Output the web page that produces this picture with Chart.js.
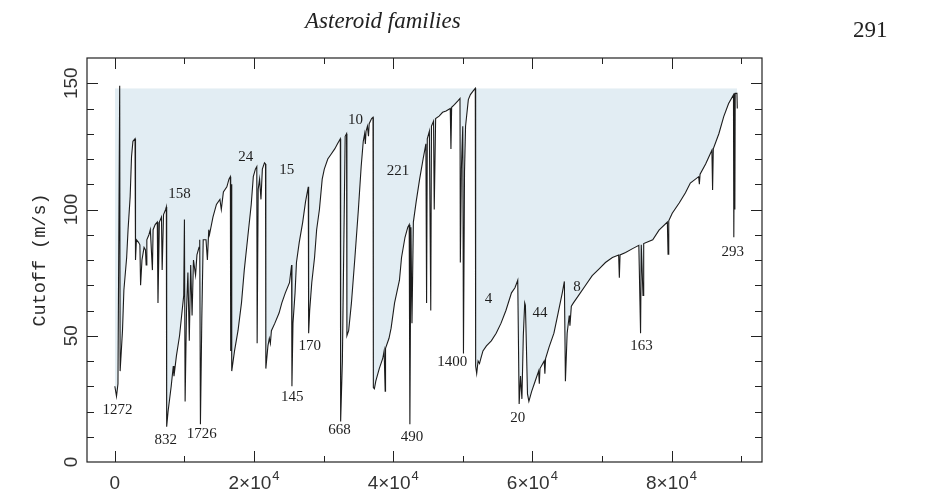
<!DOCTYPE html>
<html>
<head>
<meta charset="utf-8">
<script src="https://cdn.jsdelivr.net/npm/chart.js@4.4.1/dist/chart.umd.min.js"></script>
<style>
  html, body { margin: 0; padding: 0; background: #fff; }
  #page { position: relative; width: 944px; height: 496px; overflow: hidden; }
  #chart { position: absolute; left: 0; top: 0; }
  .running-head { position: absolute; font-family: "Liberation Serif", serif; font-size: 23px; color: #222; white-space: nowrap; }
</style>
</head>
<body>
<div id="page">
  <canvas id="chart" width="944" height="496"></canvas>
  <div class="running-head" style="left:305px;top:8px;font-style:italic;">Asteroid families</div>
  <div class="running-head" style="left:853px;top:17px;">291</div>
</div>
<script>
// ordered asteroid index vs. cutoff velocity (m/s)
const cutoffX = [
  0, 240, 450, 700, 760, 1100, 1300, 1700, 1900, 2200, 2400, 2600, 2900, 2970, 3100, 3400, 3600, 3700, 3900, 4200,
  4400, 4500, 4600, 4900, 5100, 5400, 5500, 5800, 6100, 6200, 6400, 6700, 6800, 7000, 7300, 7400, 7450, 7650, 8100, 8400,
  8500, 8850, 9300, 9600, 9900, 10000, 10100, 10300, 10500, 10700, 10900, 11100, 11300, 11600, 11800, 12100, 12200, 12300, 12500, 12700,
  13100, 13300, 13500, 13600, 14100, 14600, 15100, 15300, 15600, 16100, 16400, 16600, 16650, 16700, 16800, 17200, 17700, 18200, 18600, 19100,
  19600, 19900, 20200, 20400, 20450, 20600, 20800, 21000, 21200, 21500, 21650, 21700, 22000, 22200, 22350, 22500, 23000, 23600, 24000, 24500,
  25100, 25400, 25450, 25600, 25900, 26100, 26500, 27000, 27400, 27800, 27850, 28000, 28300, 28700, 29000, 29400, 29800, 30100, 30600, 31100,
  31600, 32000, 32400, 32450, 32700, 33100, 33300, 33350, 33600, 34000, 34500, 35000, 35400, 35700, 35900, 36000, 36100, 36300, 36450, 36550,
  36900, 37100, 37150, 37300, 37500, 38000, 38500, 38700, 38850, 38900, 39400, 39700, 40200, 40900, 41200, 41700, 42100, 42300, 42400, 42550,
  42700, 42900, 43300, 43800, 44300, 44700, 44800, 44900, 45200, 45400, 45500, 45800, 45900, 46100, 46600, 47100, 47600, 48200, 48300, 48400,
  48800, 49300, 49600, 49650, 49800, 50000, 50100, 50250, 50400, 50800, 51100, 51500, 51800, 51850, 52000, 52200, 52400, 52600, 52900, 53400,
  54100, 54800, 55500, 56200, 57000, 57500, 57900, 58100, 58300, 58500, 58700, 58900, 59000, 59100, 59300, 59500, 59900, 60400, 60900, 61000,
  61100, 61700, 61800, 61900, 62400, 63100, 63700, 64300, 64600, 64750, 65000, 65300, 65400, 65600, 65900, 66600, 67600, 68600, 69600, 70500,
  71500, 72400, 72500, 72600, 73400, 74400, 75300, 75550, 75650, 75900, 76000, 77300, 78200, 79400, 79500, 79600, 80100, 81100, 82000, 82700,
  83900, 84000, 84100, 84900, 85800, 85900, 86000, 86800, 87500, 88200, 88900, 88950, 89050, 89100, 89150, 89400, 89450
];
const cutoffY = [
  30, 26, 31, 149, 36, 52, 68, 81, 92, 105, 121, 127, 128, 80, 88, 87, 86, 70, 80, 85,
  84, 78, 88, 90, 92, 76, 92, 94, 95, 63, 95, 97, 76, 98, 100, 101, 14, 20, 30, 38,
  34, 42, 50, 58, 66, 96, 24, 60, 75, 48, 78, 58, 80, 74, 82, 85, 88, 15, 57, 88,
  88, 80, 92, 90, 97, 102, 104, 100, 107, 109, 112, 113, 44, 110, 36, 44, 52, 63, 76, 89,
  102, 113, 116, 117, 47, 108, 112, 104, 116, 118.5, 118, 37, 46, 49, 47, 52, 55, 59, 63, 67,
  71, 78, 30, 55, 67, 79, 87, 95, 103, 109, 51, 60, 71, 81, 92, 100, 112, 116, 120, 122,
  124, 126, 128, 16, 40, 129, 130, 50, 52, 63, 81, 100, 117, 127, 130, 126, 131, 133, 129, 134,
  136, 136.5, 29.5, 29, 32, 37, 41, 44, 28, 45, 49, 53, 63, 72, 81, 89, 93, 94, 15, 93,
  55, 95, 103, 112, 120, 126, 63, 128, 131, 60, 133, 135, 100, 136, 137, 138.5, 139, 140, 124, 140.5,
  141.5, 143, 144, 79, 116, 133, 43, 115, 133, 143.5, 145.5, 147, 148, 38, 35, 40, 39, 41, 44, 46,
  48, 51, 55, 60, 67, 69, 72, 23, 34, 25, 50, 63, 62, 51, 27, 24, 28, 32, 36, 31,
  37, 40, 35, 41, 45.5, 51, 59, 67, 71.5, 32, 51, 58, 54, 61.7, 63, 65.8, 69.8, 73.8, 76.5, 79,
  81, 82, 73, 82, 83, 84.5, 85.8, 51, 86, 66, 86.5, 88, 91.8, 95, 82.3, 95.5, 98.5, 102.6, 106.6, 110.5,
  113, 110, 114, 118, 123.5, 107.7, 124, 130, 136.8, 142, 145.4, 89, 146, 100, 146, 146, 140
];

// family labels (number of the parent asteroid) and where they sit
const familyNames = ['1272', '832', '1726', '158', '24', '15', '145', '170', '668', '10', '221', '490', '1400', '4', '20', '44', '8', '163', '293'];
const familyLabelX = [400, 7300, 12500, 9300, 18800, 24700, 25500, 28000, 32300, 34600, 40700, 42700, 48500, 53700, 57900, 61100, 66400, 75700, 88800];
const familyLabelY = [20.4, 8.5, 10.9, 106.2, 120.8, 115.7, 25.6, 45.8, 12.5, 135.5, 115.3, 9.7, 39.5, 64.5, 17.3, 58.9, 69.2, 45.8, 83.1];

const xTickValues = [0, 20000, 40000, 60000, 80000];
const yTickValues = [0, 50, 100, 150];
const xMinorStep = 10000;
const yMinorStep = 10;
const shadeTop = 148;

const points = cutoffX.map((x, i) => ({ x: x, y: cutoffY[i] }));

const framePlugin = {
  id: 'frame',
  afterDraw(chart) {
    const ctx = chart.ctx;
    const { left, right, top, bottom } = chart.chartArea;
    const xs = chart.scales.x;
    const ys = chart.scales.y;
    ctx.save();

    // frame
    ctx.strokeStyle = '#222';
    ctx.lineWidth = 1.2;
    ctx.strokeRect(left, top, right - left, bottom - top);

    // inward ticks on all four sides
    ctx.lineWidth = 1;
    ctx.beginPath();
    for (let v = 0; v <= 90000; v += xMinorStep) {
      const px = Math.round(xs.getPixelForValue(v)) + 0.5;
      const len = v % 20000 === 0 ? 11 : 6;
      ctx.moveTo(px, bottom); ctx.lineTo(px, bottom - len);
      ctx.moveTo(px, top); ctx.lineTo(px, top + len);
    }
    for (let v = yMinorStep; v < 160; v += yMinorStep) {
      const py = Math.round(ys.getPixelForValue(v)) + 0.5;
      const len = v % 50 === 0 ? 11 : 7;
      ctx.moveTo(left, py); ctx.lineTo(left + len, py);
      ctx.moveTo(right, py); ctx.lineTo(right - len, py);
    }
    ctx.stroke();

    // x tick labels, n×10^4
    ctx.fillStyle = '#333';
    ctx.textBaseline = 'alphabetic';
    xTickValues.forEach(v => {
      const px = xs.getPixelForValue(v);
      const base = 489;
      if (v === 0) {
        ctx.font = '19px "Liberation Sans", sans-serif';
        ctx.textAlign = 'center';
        ctx.fillText('0', px, base);
        return;
      }
      const main = (v / 10000) + '×10';
      ctx.font = '19px "Liberation Sans", sans-serif';
      const w1 = ctx.measureText(main).width;
      ctx.font = '13px "Liberation Sans", sans-serif';
      const w2 = ctx.measureText('4').width;
      const x0 = px - (w1 + w2 + 1) / 2;
      ctx.textAlign = 'left';
      ctx.font = '19px "Liberation Sans", sans-serif';
      ctx.fillText(main, x0, base);
      ctx.font = '13px "Liberation Sans", sans-serif';
      ctx.fillText('4', x0 + w1 + 1, base - 9);
    });

    // y tick labels, rotated
    ctx.font = '19px "Liberation Sans", sans-serif';
    ctx.textAlign = 'center';
    ctx.textBaseline = 'middle';
    yTickValues.forEach(v => {
      ctx.save();
      ctx.translate(72, ys.getPixelForValue(v));
      ctx.rotate(-Math.PI / 2);
      ctx.fillText(String(v), 0, 0);
      ctx.restore();
    });

    // y axis title
    ctx.save();
    ctx.font = '18.5px "Liberation Mono", monospace';
    ctx.fillStyle = '#2a2a2a';
    ctx.translate(40, 260);
    ctx.rotate(-Math.PI / 2);
    ctx.fillText('Cutoff (m/s)', 0, 0);
    ctx.restore();

    // family labels
    ctx.font = '15px "Liberation Serif", serif';
    ctx.fillStyle = '#1e1e1e';
    familyNames.forEach((name, i) => {
      ctx.fillText(name, xs.getPixelForValue(familyLabelX[i]), ys.getPixelForValue(familyLabelY[i]));
    });

    ctx.restore();
  }
};

new Chart(document.getElementById('chart'), {
  type: 'line',
  data: {
    datasets: [{
      label: 'Cutoff',
      data: points,
      borderColor: '#1c1c1c',
      borderWidth: 1.1,
      pointRadius: 0,
      tension: 0,
      fill: { target: { value: shadeTop }, above: 'rgba(0,0,0,0)', below: 'rgb(226,237,243)' }
    }]
  },
  options: {
    responsive: false,
    animation: false,
    layout: { padding: { left: 87, right: 182, top: 58, bottom: 34 } },
    plugins: { legend: { display: false }, tooltip: { enabled: false } },
    scales: {
      x: { type: 'linear', min: -4000, max: 93000, display: false },
      y: { min: 0, max: 160, display: false }
    }
  },
  plugins: [framePlugin]
});
</script>
</body>
</html>
